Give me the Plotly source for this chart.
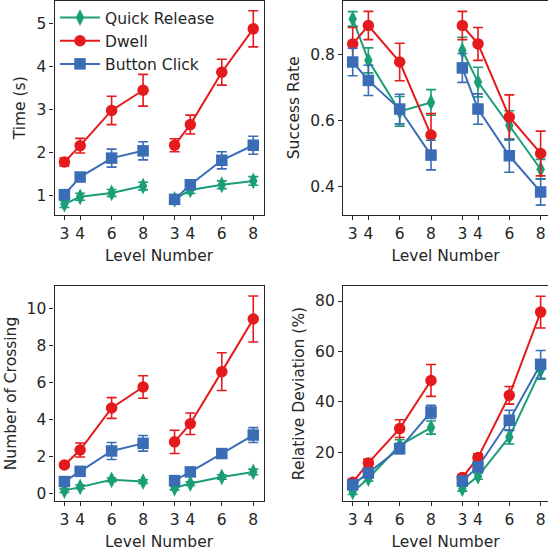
import plotly.graph_objects as go

# ---------------- data ----------------
levels = [3, 4, 6, 8]
tick_labels = ["3", "4", "6", "8", "3", "4", "6", "8"]
series_names = ["Quick Release", "Dwell", "Button Click"]

# Time (s): [group1, group2]
time_quick = [[0.79, 0.96, 1.05, 1.21], [0.90, 1.12, 1.24, 1.33]]
time_quick_err = [[0.08, 0.08, 0.08, 0.09], [0.08, 0.08, 0.09, 0.10]]
time_dwell = [[1.77, 2.15, 2.97, 3.44], [2.16, 2.64, 3.86, 4.87]]
time_dwell_err = [[0.09, 0.17, 0.33, 0.37], [0.15, 0.22, 0.30, 0.42]]
time_button = [[1.01, 1.42, 1.86, 2.03], [0.90, 1.24, 1.81, 2.16]]
time_button_err = [[0.07, 0.10, 0.21, 0.21], [0.06, 0.07, 0.20, 0.21]]

# Success rate
succ_quick = [[0.909, 0.783, 0.628, 0.655], [0.813, 0.717, 0.585, 0.452]]
succ_quick_err = [[0.022, 0.038, 0.045, 0.039], [0.040, 0.045, 0.045, 0.030]]
succ_dwell = [[0.833, 0.889, 0.778, 0.556], [0.889, 0.833, 0.611, 0.500]]
succ_dwell_err = [[0.050, 0.043, 0.057, 0.065], [0.043, 0.050, 0.067, 0.068]]
succ_button = [[0.778, 0.722, 0.635, 0.495], [0.760, 0.635, 0.493, 0.383]]
succ_button_err = [[0.042, 0.046, 0.045, 0.045], [0.044, 0.046, 0.050, 0.040]]

# Number of crossing
cross_quick = [[0.18, 0.38, 0.76, 0.67], [0.32, 0.56, 0.92, 1.19]]
cross_quick_err = [[0.10, 0.10, 0.10, 0.10], [0.10, 0.10, 0.12, 0.15]]
cross_dwell = [[1.56, 2.37, 4.64, 5.77], [2.81, 3.79, 6.60, 9.44]]
cross_dwell_err = [[0.12, 0.38, 0.56, 0.61], [0.63, 0.58, 1.02, 1.24]]
cross_button = [[0.67, 1.22, 2.32, 2.73], [0.72, 1.19, 2.18, 3.18]]
cross_button_err = [[0.10, 0.10, 0.46, 0.42], [0.10, 0.12, 0.15, 0.40]]

# Relative deviation (%)
dev_quick = [[4.3, 9.6, 22.8, 29.8], [5.6, 10.5, 26.1, 52.5]]
dev_quick_err = [[1.0, 1.0, 2.2, 2.6], [1.0, 1.2, 2.8, 3.5]]
dev_dwell = [[8.1, 15.8, 29.4, 48.5], [10.0, 17.9, 42.6, 75.6]]
dev_dwell_err = [[1.2, 1.5, 3.5, 6.3], [1.2, 1.5, 3.5, 6.3]]
dev_button = [[7.1, 11.8, 21.5, 36.0], [8.6, 14.2, 32.7, 54.9]]
dev_button_err = [[1.5, 1.5, 2.0, 2.6], [1.5, 1.8, 4.0, 5.5]]

colors = ["#1b9e77", "#e41a1c", "#3a6db5"]
symbols = ["diamond-tall", "circle", "square"]
msizes = [12, 11.5, 11.5]

GROUP_OFFSET = 7  # second block of levels drawn to the right
x_pos = [levels, [l + GROUP_OFFSET for l in levels]]
tick_pos = x_pos[0] + x_pos[1]

panels = [
    ("x", "y", [time_quick, time_dwell, time_button],
     [time_quick_err, time_dwell_err, time_button_err]),
    ("x2", "y2", [succ_quick, succ_dwell, succ_button],
     [succ_quick_err, succ_dwell_err, succ_button_err]),
    ("x3", "y3", [cross_quick, cross_dwell, cross_button],
     [cross_quick_err, cross_dwell_err, cross_button_err]),
    ("x4", "y4", [dev_quick, dev_dwell, dev_button],
     [dev_quick_err, dev_dwell_err, dev_button_err]),
]

fig = go.Figure()
for pi, (xa, ya, vals, errs) in enumerate(panels):
    for si in range(3):
        for g in range(2):
            fig.add_trace(go.Scatter(
                x=x_pos[g], y=vals[si][g], xaxis=xa, yaxis=ya,
                mode="lines+markers",
                name=series_names[si],
                legendgroup=series_names[si],
                showlegend=(pi == 0 and g == 0),
                line=dict(color=colors[si], width=2),
                marker=dict(symbol=symbols[si], size=msizes[si], color=colors[si],
                            line=dict(width=0)),
                error_y=dict(type="data", array=errs[si][g], visible=True,
                             color=colors[si], thickness=1.6, width=5),
                cliponaxis=False,
            ))

W, H = 548, 554
AX = "#262626"
FONT = dict(family="DejaVu Sans", size=15.5, color="#262626")


def xaxis(domain, rng, anchor):
    return dict(domain=domain, range=rng, anchor=anchor,
                tickvals=tick_pos, ticktext=tick_labels,
                showline=True, linecolor=AX, linewidth=1.2, mirror=True,
                ticks="outside", ticklen=4, tickwidth=1, tickcolor=AX,
                showgrid=False, zeroline=False, automargin=False,
                tickfont=FONT,
                title=dict(text="Level Number", font=FONT, standoff=8))


def yaxis(domain, rng, tickvals, title, mirror, anchor):
    return dict(domain=domain, range=rng, tickvals=tickvals, anchor=anchor,
                showline=True, linecolor=AX, linewidth=1.2, mirror=mirror,
                ticks="outside", ticklen=4, tickwidth=1, tickcolor=AX,
                showgrid=False, zeroline=False, automargin=False,
                tickfont=FONT,
                title=dict(text=title, font=FONT, standoff=6))


xl = [54.5 / W, 263.5 / W]
xr = [343 / W, 1.0]
yt = [1 - 215 / H, 1 - 0.6 / H]
yb = [1 - 501 / H, 1 - 286 / H]

fig.update_layout(
    width=W, height=H,
    margin=dict(l=0, r=0, t=0, b=0),
    paper_bgcolor="white", plot_bgcolor="white",
    font=FONT,
    xaxis=xaxis(xl, [2.37, 15.65], "y"),
    yaxis=yaxis(yt, [0.536, 5.527], [1, 2, 3, 4, 5], "Time (s)", True, "x"),
    xaxis2=xaxis(xr, [2.38, 15.47], "y2"),
    yaxis2=yaxis(yt, [0.313, 0.9646], [0.4, 0.6, 0.8], "Success Rate", False, "x2"),
    xaxis3=xaxis(xl, [2.37, 15.65], "y3"),
    yaxis3=yaxis(yb, [-0.38, 11.22], [0, 2, 4, 6, 8, 10], "Number of Crossing", True, "x3"),
    xaxis4=xaxis(xr, [2.38, 15.47], "y4"),
    yaxis4=yaxis(yb, [0.7, 85.95], [20, 40, 60, 80], "Relative Deviation (%)", False, "x4"),
    showlegend=True,
    legend=dict(x=55 / W, y=1 - 1 / H, xanchor="left", yanchor="top",
                bgcolor="rgba(0,0,0,0)", font=FONT,
                tracegroupgap=0, itemwidth=40),
)

fig.write_html("out.html", config={"displayModeBar": False},
               post_script="document.body.style.margin='0';document.body.style.overflow='hidden';")
